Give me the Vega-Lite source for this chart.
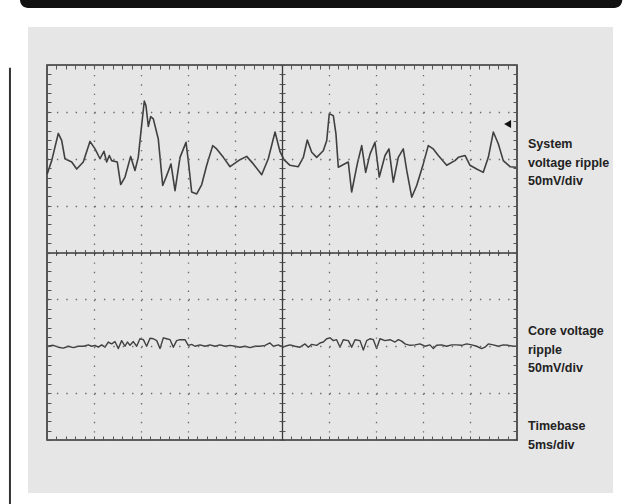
{
"$schema":"https://vega.github.io/schema/vega-lite/v6.json",
"width":470,"height":375,
"autosize":{"type":"none"},
"padding":{"left":47,"top":65,"right":125,"bottom":64},
"background":"white",
"config":{"view":{"stroke":null,"fill":null}},
"datasets":{
"system":[{"t":0.03,"v":1.68},{"t":0.5,"v":1.96},{"t":1.2,"v":2.54},{"t":1.56,"v":2.39},{"t":1.91,"v":2.0},{"t":2.63,"v":1.93},{"t":3.16,"v":1.78},{"t":3.86,"v":1.93},{"t":4.57,"v":2.37},{"t":5.11,"v":2.21},{"t":5.64,"v":2.0},{"t":6.06,"v":2.16},{"t":6.35,"v":1.93},{"t":6.63,"v":2.07},{"t":6.88,"v":1.96},{"t":7.48,"v":1.93},{"t":7.84,"v":1.45},{"t":8.3,"v":1.61},{"t":8.9,"v":2.05},{"t":9.36,"v":1.75},{"t":9.71,"v":2.03},{"t":9.97,"v":2.53},{"t":10.35,"v":3.23},{"t":10.53,"v":3.13},{"t":10.78,"v":2.69},{"t":11.03,"v":2.9},{"t":11.31,"v":2.85},{"t":11.84,"v":2.42},{"t":12.31,"v":1.43},{"t":12.73,"v":1.64},{"t":13.19,"v":1.89},{"t":13.62,"v":1.32},{"t":14.15,"v":2.03},{"t":14.79,"v":2.35},{"t":15.03,"v":1.96},{"t":15.39,"v":1.29},{"t":15.93,"v":1.25},{"t":16.46,"v":1.45},{"t":16.99,"v":1.86},{"t":17.63,"v":2.28},{"t":18.05,"v":2.21},{"t":18.76,"v":2.03},{"t":19.47,"v":1.83},{"t":20.53,"v":1.98},{"t":21.24,"v":2.05},{"t":21.95,"v":1.89},{"t":22.84,"v":1.66},{"t":23.54,"v":2.0},{"t":24.26,"v":2.57},{"t":24.79,"v":2.15},{"t":25.21,"v":1.98},{"t":25.85,"v":1.86},{"t":26.73,"v":1.83},{"t":27.27,"v":2.03},{"t":27.69,"v":2.4},{"t":28.16,"v":2.14},{"t":28.69,"v":2.03},{"t":29.39,"v":2.17},{"t":29.76,"v":2.39},{"t":30.03,"v":2.96},{"t":30.46,"v":2.92},{"t":30.74,"v":2.53},{"t":30.99,"v":1.82},{"t":32.05,"v":1.93},{"t":32.41,"v":1.29},{"t":33.01,"v":1.89},{"t":33.48,"v":2.28},{"t":33.9,"v":1.71},{"t":34.36,"v":2.1},{"t":34.89,"v":2.35},{"t":35.35,"v":1.61},{"t":35.96,"v":2.07},{"t":36.38,"v":2.21},{"t":36.84,"v":1.5},{"t":37.37,"v":2.03},{"t":37.9,"v":2.21},{"t":38.27,"v":1.75},{"t":38.8,"v":1.18},{"t":39.33,"v":1.43},{"t":40.03,"v":1.89},{"t":40.56,"v":2.28},{"t":41.09,"v":2.21},{"t":41.63,"v":2.07},{"t":42.52,"v":1.86},{"t":43.4,"v":1.96},{"t":43.76,"v":2.03},{"t":44.47,"v":2.07},{"t":45.0,"v":1.86},{"t":45.71,"v":1.78},{"t":46.41,"v":1.71},{"t":46.95,"v":2.03},{"t":47.48,"v":2.57},{"t":48.01,"v":2.32},{"t":48.54,"v":1.96},{"t":49.26,"v":1.83},{"t":49.89,"v":1.82}],
"core":[{"t":0.04,"v":-2.0},{"t":0.67,"v":-1.98},{"t":1.21,"v":-2.02},{"t":1.74,"v":-2.04},{"t":2.27,"v":-2.0},{"t":2.8,"v":-2.03},{"t":3.33,"v":-2.0},{"t":3.87,"v":-2.0},{"t":4.4,"v":-1.97},{"t":4.75,"v":-2.0},{"t":5.11,"v":-1.98},{"t":5.46,"v":-2.02},{"t":5.82,"v":-1.97},{"t":6.17,"v":-2.02},{"t":6.52,"v":-1.91},{"t":6.88,"v":-1.95},{"t":7.23,"v":-1.9},{"t":7.59,"v":-2.05},{"t":7.94,"v":-1.88},{"t":8.3,"v":-2.0},{"t":8.55,"v":-1.91},{"t":8.83,"v":-1.98},{"t":9.18,"v":-1.9},{"t":9.54,"v":-2.0},{"t":9.89,"v":-1.84},{"t":10.25,"v":-1.86},{"t":10.6,"v":-2.0},{"t":10.96,"v":-1.83},{"t":11.31,"v":-1.84},{"t":11.67,"v":-1.88},{"t":12.02,"v":-2.05},{"t":12.38,"v":-1.82},{"t":12.73,"v":-1.84},{"t":13.09,"v":-1.86},{"t":13.44,"v":-2.02},{"t":13.79,"v":-1.88},{"t":14.15,"v":-1.86},{"t":14.68,"v":-1.86},{"t":15.03,"v":-1.98},{"t":15.39,"v":-1.96},{"t":15.74,"v":-2.0},{"t":16.28,"v":-1.97},{"t":16.81,"v":-2.0},{"t":17.34,"v":-1.97},{"t":17.87,"v":-2.0},{"t":18.4,"v":-1.97},{"t":18.94,"v":-2.0},{"t":19.47,"v":-1.98},{"t":20.0,"v":-2.0},{"t":20.53,"v":-2.02},{"t":21.06,"v":-2.0},{"t":21.6,"v":-2.03},{"t":22.13,"v":-2.0},{"t":22.66,"v":-2.0},{"t":23.19,"v":-1.98},{"t":23.72,"v":-1.93},{"t":24.08,"v":-2.0},{"t":24.61,"v":-1.97},{"t":25.14,"v":-2.02},{"t":25.32,"v":-2.0},{"t":25.85,"v":-1.97},{"t":26.38,"v":-2.0},{"t":26.91,"v":-2.02},{"t":27.45,"v":-1.95},{"t":27.8,"v":-2.02},{"t":28.16,"v":-1.96},{"t":28.69,"v":-1.98},{"t":29.04,"v":-1.93},{"t":29.4,"v":-1.91},{"t":29.75,"v":-1.84},{"t":30.11,"v":-1.82},{"t":30.46,"v":-1.88},{"t":30.81,"v":-1.86},{"t":31.17,"v":-2.02},{"t":31.52,"v":-1.86},{"t":32.06,"v":-1.88},{"t":32.41,"v":-2.02},{"t":32.77,"v":-1.86},{"t":33.3,"v":-1.88},{"t":33.65,"v":-2.08},{"t":34.01,"v":-1.88},{"t":34.36,"v":-1.84},{"t":34.72,"v":-1.86},{"t":35.07,"v":-2.05},{"t":35.42,"v":-1.84},{"t":35.96,"v":-1.88},{"t":36.49,"v":-1.86},{"t":37.02,"v":-1.91},{"t":37.38,"v":-1.86},{"t":37.73,"v":-1.89},{"t":38.08,"v":-1.95},{"t":38.62,"v":-1.98},{"t":39.15,"v":-1.97},{"t":39.68,"v":-1.95},{"t":40.21,"v":-2.0},{"t":40.74,"v":-1.97},{"t":41.1,"v":-2.05},{"t":41.45,"v":-1.98},{"t":41.98,"v":-1.97},{"t":42.52,"v":-2.0},{"t":43.05,"v":-1.97},{"t":43.58,"v":-1.97},{"t":44.11,"v":-1.98},{"t":44.65,"v":-1.95},{"t":45.18,"v":-1.97},{"t":45.71,"v":-2.0},{"t":46.24,"v":-2.05},{"t":46.59,"v":-2.02},{"t":46.95,"v":-1.95},{"t":47.48,"v":-1.97},{"t":48.01,"v":-2.0},{"t":48.54,"v":-1.97},{"t":49.08,"v":-1.98},{"t":49.61,"v":-2.0},{"t":50.0,"v":-2.0}]
},
"resolve":{"axis":{"x":"independent","y":"independent"}},
"layer":[
{"data":{"values":[{}]},"mark":{"type":"rect","color":"#111111","cornerRadius":8},
 "encoding":{"x":{"datum":-2.87,"type":"quantitative","scale":{"domain":[0,50],"nice":false,"zero":false},"axis":null},"x2":{"datum":61.2},
 "y":{"datum":5.9,"type":"quantitative","scale":{"domain":[-4,4],"nice":false,"zero":false},"axis":null},"y2":{"datum":5.216}}},
{"data":{"values":[{}]},"mark":{"type":"rule","color":"#333333","strokeWidth":2},
 "encoding":{"x":{"datum":-3.94,"type":"quantitative","scale":{"domain":[0,50],"nice":false,"zero":false},"axis":null},
 "y":{"datum":3.94,"type":"quantitative","scale":{"domain":[-4,4],"nice":false,"zero":false},"axis":null},"y2":{"datum":-5.37}}},
{"data":{"values":[{}]},"mark":{"type":"rect","color":"#e6e6e6"},
 "encoding":{"x":{"datum":-2.02,"type":"quantitative","scale":{"domain":[0,50],"nice":false,"zero":false},"axis":null},"x2":{"datum":60.21},
 "y":{"datum":4.81,"type":"quantitative","scale":{"domain":[-4,4],"nice":false,"zero":false},"axis":null},"y2":{"datum":-5.13}}},
{"data":{"name":"system"},"mark":{"type":"line","color":"#404040","strokeWidth":1.6,"strokeJoin":"round"},
 "encoding":{"x":{"field":"t","type":"quantitative","scale":{"domain":[0,50],"nice":false,"zero":false},
   "axis":{"orient":"bottom","values":[0,1,2,3,4,5,6,7,8,9,10,11,12,13,14,15,16,17,18,19,20,21,22,23,24,25,26,27,28,29,30,31,32,33,34,35,36,37,38,39,40,41,42,43,44,45,46,47,48,49,50],"labels":false,"domain":false,"title":null,"tickSize":-4,"tickColor":"#555555","tickWidth":1,"grid":true,"gridColor":"#6a6a6a","gridWidth":1.3,"gridDash":[1.4,7.975],"gridOpacity":{"condition":{"test":"datum.value % 5 == 0 && datum.value > 0 && datum.value < 50","value":1},"value":0},"zindex":1}},
  "y":{"field":"v","type":"quantitative","scale":{"domain":[-4,4],"nice":false,"zero":false},
   "axis":{"orient":"left","values":[-4,-3.8,-3.6,-3.4,-3.2,-3,-2.8,-2.6,-2.4,-2.2,-2,-1.8,-1.6,-1.4,-1.2,-1,-0.8,-0.6,-0.4,-0.2,0,0.2,0.4,0.6,0.8,1,1.2,1.4,1.6,1.8,2,2.2,2.4,2.6,2.8,3,3.2,3.4,3.6,3.8,4],"labels":false,"domain":false,"title":null,"tickSize":-4,"tickColor":"#555555","tickWidth":1,"grid":true,"gridColor":"#6a6a6a","gridWidth":1.3,"gridDash":[1.4,8.0],"gridOpacity":{"condition":{"test":"abs(datum.value - round(datum.value)) < 0.01 && abs(datum.value) < 3.9","value":1},"value":0},"zindex":1}}}},
{"data":{"name":"core"},"mark":{"type":"line","color":"#404040","strokeWidth":1.4,"strokeJoin":"round"},
 "encoding":{"x":{"field":"t","type":"quantitative","scale":{"domain":[0,50],"nice":false,"zero":false},
   "axis":{"orient":"top","values":[0,1,2,3,4,5,6,7,8,9,10,11,12,13,14,15,16,17,18,19,20,21,22,23,24,25,26,27,28,29,30,31,32,33,34,35,36,37,38,39,40,41,42,43,44,45,46,47,48,49,50],"labels":false,"domain":false,"title":null,"tickSize":-4,"tickColor":"#555555","tickWidth":1,"grid":false,"zindex":1}},
  "y":{"field":"v","type":"quantitative","scale":{"domain":[-4,4],"nice":false,"zero":false},
   "axis":{"orient":"right","values":[-4,-3.8,-3.6,-3.4,-3.2,-3,-2.8,-2.6,-2.4,-2.2,-2,-1.8,-1.6,-1.4,-1.2,-1,-0.8,-0.6,-0.4,-0.2,0,0.2,0.4,0.6,0.8,1,1.2,1.4,1.6,1.8,2,2.2,2.4,2.6,2.8,3,3.2,3.4,3.6,3.8,4],"labels":false,"domain":false,"title":null,"tickSize":-4,"tickColor":"#555555","tickWidth":1,"grid":false,"zindex":1}}}},
{"data":{"values":[{}]},"mark":{"type":"rect","filled":false,"stroke":"#333333","strokeWidth":1.6},
 "encoding":{"x":{"datum":0,"type":"quantitative","scale":{"domain":[0,50],"nice":false,"zero":false},"axis":null},"x2":{"datum":50},
 "y":{"datum":-4,"type":"quantitative","scale":{"domain":[-4,4],"nice":false,"zero":false},"axis":null},"y2":{"datum":4}}},
{"data":{"values":[{}]},"mark":{"type":"point","shape":"triangle-left","filled":true,"color":"#111111","size":65,"opacity":1},
 "encoding":{"x":{"datum":49.0,"type":"quantitative","scale":{"domain":[0,50],"nice":false,"zero":false},"axis":null},
 "y":{"datum":2.74,"type":"quantitative","scale":{"domain":[-4,4],"nice":false,"zero":false},"axis":null}}},
{"data":{"values":[{}]},"mark":{"type":"text","align":"left","baseline":"alphabetic","dx":11,"lineHeight":18.5,"font":"Liberation Sans, Arial, sans-serif","fontWeight":"bold","fontSize":12.5,"color":"#222222"},
 "encoding":{"text":{"value":["System","voltage ripple","50mV/div"]},
  "x":{"datum":50,"type":"quantitative","scale":{"domain":[0,50],"nice":false,"zero":false},
   "axis":{"orient":"bottom","offset":-187.5,"values":[0,1,2,3,4,5,6,7,8,9,10,11,12,13,14,15,16,17,18,19,20,21,22,23,24,25,26,27,28,29,30,31,32,33,34,35,36,37,38,39,40,41,42,43,44,45,46,47,48,49,50],"labels":false,"domain":true,"domainColor":"#3a3a3a","domainWidth":1.3,"title":null,"tickSize":3,"tickColor":"#555555","tickWidth":1,"grid":false,"zindex":1}},
  "y":{"datum":2.229,"type":"quantitative","scale":{"domain":[-4,4],"nice":false,"zero":false},
   "axis":{"orient":"left","offset":-235,"values":[-4,-3.8,-3.6,-3.4,-3.2,-3,-2.8,-2.6,-2.4,-2.2,-2,-1.8,-1.6,-1.4,-1.2,-1,-0.8,-0.6,-0.4,-0.2,0,0.2,0.4,0.6,0.8,1,1.2,1.4,1.6,1.8,2,2.2,2.4,2.6,2.8,3,3.2,3.4,3.6,3.8,4],"labels":false,"domain":true,"domainColor":"#3a3a3a","domainWidth":1.3,"title":null,"tickSize":3,"tickColor":"#555555","tickWidth":1,"grid":false,"zindex":1}}}},
{"data":{"values":[{}]},"mark":{"type":"text","align":"left","baseline":"alphabetic","dx":11,"lineHeight":18.5,"font":"Liberation Sans, Arial, sans-serif","fontWeight":"bold","fontSize":12.5,"color":"#222222"},
 "encoding":{"text":{"value":["Core voltage","ripple","50mV/div"]},
  "x":{"datum":50,"type":"quantitative","scale":{"domain":[0,50],"nice":false,"zero":false},
   "axis":{"orient":"bottom","offset":-187.5,"values":[0,1,2,3,4,5,6,7,8,9,10,11,12,13,14,15,16,17,18,19,20,21,22,23,24,25,26,27,28,29,30,31,32,33,34,35,36,37,38,39,40,41,42,43,44,45,46,47,48,49,50],"labels":false,"domain":false,"title":null,"tickSize":-3,"tickColor":"#555555","tickWidth":1,"grid":false,"zindex":1}},
  "y":{"datum":-1.76,"type":"quantitative","scale":{"domain":[-4,4],"nice":false,"zero":false},
   "axis":{"orient":"left","offset":-235,"values":[-4,-3.8,-3.6,-3.4,-3.2,-3,-2.8,-2.6,-2.4,-2.2,-2,-1.8,-1.6,-1.4,-1.2,-1,-0.8,-0.6,-0.4,-0.2,0,0.2,0.4,0.6,0.8,1,1.2,1.4,1.6,1.8,2,2.2,2.4,2.6,2.8,3,3.2,3.4,3.6,3.8,4],"labels":false,"domain":false,"title":null,"tickSize":-3,"tickColor":"#555555","tickWidth":1,"grid":false,"zindex":1}}}},
{"data":{"values":[{}]},"mark":{"type":"text","align":"left","baseline":"alphabetic","dx":11,"lineHeight":18.5,"font":"Liberation Sans, Arial, sans-serif","fontWeight":"bold","fontSize":12.5,"color":"#222222"},
 "encoding":{"text":{"value":["Timebase","5ms/div"]},
  "x":{"datum":50,"type":"quantitative","scale":{"domain":[0,50],"nice":false,"zero":false},"axis":null},
  "y":{"datum":-3.787,"type":"quantitative","scale":{"domain":[-4,4],"nice":false,"zero":false},"axis":null}}}
]
}
